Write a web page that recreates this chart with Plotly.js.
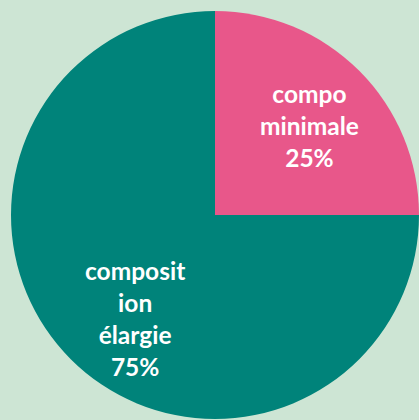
<!DOCTYPE html>
<html>
<head>
<meta charset="utf-8">
<script src="https://cdn.plot.ly/plotly-3.0.1.min.js"></script>
<style>html,body{margin:0;padding:0;background:#cde5d4;}#chart{width:419px;height:420px;}</style>
</head>
<body>
<div id="chart"></div>
<script>
var categories = ["compo minimale", "composition élargie"];
var labelLines = [["compo", "minimale"], ["composit", "ion", "élargie"]];
var values = [25, 75];
var percentLabels = ["25%", "75%"];
var sliceColors = ["#e8578a", "#00837a"];

var W = 419, H = 420;
var domX = [11 / W, 1], domY = [1 / H, 409 / H];

var texts = labelLines.map(function (lines, i) {
  return lines.concat([percentLabels[i]]).join("<br>");
});

// label positions derived from slice mid-angles
var total = values.reduce(function (a, b) { return a + b; }, 0);
var cxPx = (domX[0] + domX[1]) / 2 * W;
var cyPx = (1 - (domY[0] + domY[1]) / 2) * H;
var R = Math.min((domX[1] - domX[0]) * W, (domY[1] - domY[0]) * H) / 2;
var shifts = [[2, -3], [12, -11]];
var cum = 0;
var annotations = values.map(function (v, i) {
  var mid = (cum + v / 2) / total * 2 * Math.PI;
  cum += v;
  var px = cxPx + 0.64 * R * Math.sin(mid);
  var py = cyPx - 0.64 * R * Math.cos(mid);
  return {
    x: px / W, y: 1 - py / H, xref: "paper", yref: "paper",
    xanchor: "center", yanchor: "middle", showarrow: false,
    xshift: shifts[i][0], yshift: shifts[i][1],
    text: texts[i], align: "center",
    font: { family: "Lato, 'Open Sans', sans-serif", size: 24.5, color: "#ffffff", weight: "bold" }
  };
});

var trace = {
  type: "pie",
  labels: categories,
  values: values,
  textinfo: "none",
  hoverinfo: "label+percent",
  sort: false,
  direction: "clockwise",
  rotation: 0,
  marker: { colors: sliceColors, line: { width: 0 } },
  domain: { x: domX, y: domY }
};

var layout = {
  width: W,
  height: H,
  margin: { l: 0, r: 0, t: 0, b: 0 },
  paper_bgcolor: "#cde5d4",
  plot_bgcolor: "#cde5d4",
  showlegend: false,
  annotations: annotations
};

Plotly.newPlot("chart", [trace], layout, { displayModeBar: false, staticPlot: true });
</script>
</body>
</html>
